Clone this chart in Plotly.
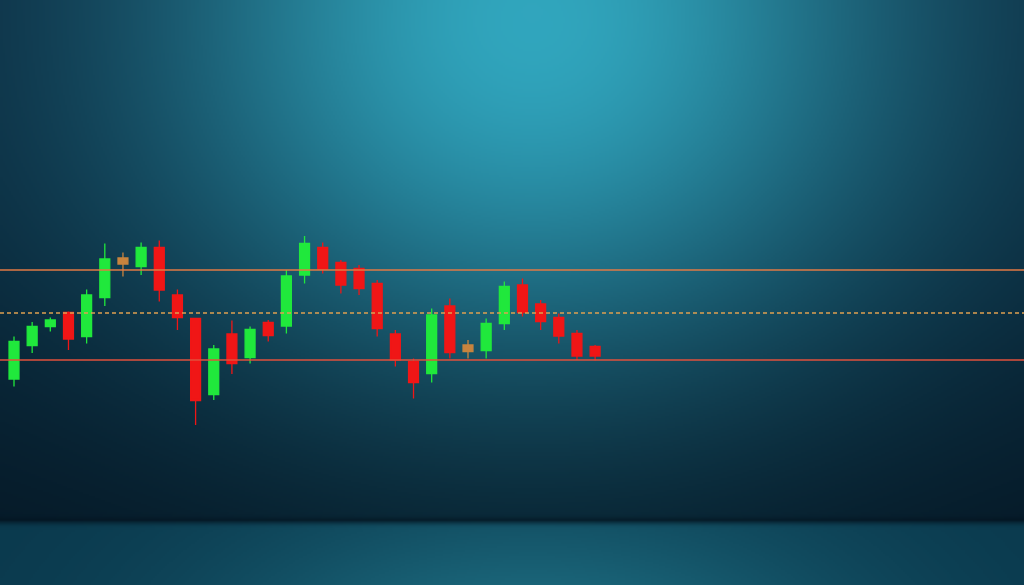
import base64, struct, zlib
import numpy as np
import plotly.graph_objects as go

# ---- data (price units) ----
idx = list(range(33))
opens  = [41.2, 47.9, 51.7, 54.5, 49.7, 57.5, 64.2, 63.7, 67.5, 58.0, 53.3, 38.1, 50.2, 45.5, 52.5, 51.8, 62.0,
          67.5, 64.5, 63.3, 60.3, 50.2, 44.7, 42.3, 55.8, 46.7, 46.9, 52.3, 60.0, 56.2, 53.5, 50.3, 47.7]
closes = [48.7, 51.7, 53.0, 49.2, 58.0, 65.2, 65.4, 67.5, 59.0, 53.5, 36.9, 47.2, 44.3, 51.1, 49.9, 61.8, 68.3,
          63.2, 60.0, 59.3, 51.3, 45.0, 40.5, 54.0, 46.5, 48.0, 52.3, 59.7, 54.5, 52.7, 49.8, 45.8, 45.8]
highs  = [49.7, 52.6, 53.5, 54.7, 59.1, 68.3, 66.5, 68.5, 68.9, 59.1, 53.4, 48.0, 52.9, 51.7, 53.0, 63.0, 69.8,
          68.5, 65.0, 64.0, 61.0, 51.0, 45.3, 55.3, 57.3, 49.0, 53.3, 60.7, 61.3, 57.0, 54.3, 51.0, 48.0]
lows   = [39.7, 46.4, 50.7, 47.0, 48.3, 55.8, 61.7, 62.0, 56.7, 51.0, 32.0, 37.0, 42.2, 44.3, 48.7, 50.3, 60.3,
          62.3, 58.3, 58.0, 49.7, 43.7, 37.3, 40.5, 45.3, 45.3, 45.3, 51.0, 53.7, 51.0, 48.3, 45.0, 44.9]
doji_idx = [6, 25]
levels = [63.0, 54.4, 45.0]  # resistance, pivot, support

# ---- background gradient image ----
W, H = 512, 293
xx, yy = np.meshgrid(np.linspace(0, 1, W), np.linspace(0, 1, H))
split = 0.892
t = np.clip(yy / split, 0, 1)[..., None]
dark = np.array([11, 38, 58]) * (1 - t) + np.array([5, 24, 38]) * t
glow = np.exp(-(((xx - 0.52) / 0.36) ** 2 + ((yy - 0.0) / 0.6) ** 2))[..., None]
glow2 = (0.25 * np.exp(-(((xx - 0.5) / 0.8) ** 2 + ((yy - 0.35) / 0.42) ** 2)))[..., None]
bright = np.array([48, 160, 182])
main = dark + (bright - dark) * glow + np.array([8, 45, 55]) * glow2
ft = np.clip((yy - split) / (1 - split), 0, 1)[..., None]
fglow = np.exp(-((xx - 0.52) / 0.32) ** 2)[..., None]
floor = np.array([10, 56, 76]) + np.array([16, 44, 44]) * fglow * (0.6 + 0.4 * ft)
img = np.where((yy >= split)[..., None], floor, main)
edge = np.exp(-((yy - split) / 0.006) ** 2)[..., None]
img = img * (1 - 0.6 * edge) + np.array([4, 20, 32]) * 0.6 * edge
img = np.clip(img, 0, 255).astype(np.uint8)

def png_uri(a):
    h, w, _ = a.shape
    raw = b"".join(b"\x00" + a[r].tobytes() for r in range(h))
    def chunk(tag, d):
        return struct.pack(">I", len(d)) + tag + d + struct.pack(">I", zlib.crc32(tag + d) & 0xFFFFFFFF)
    png = (b"\x89PNG\r\n\x1a\n" + chunk(b"IHDR", struct.pack(">IIBBBBB", w, h, 8, 2, 0, 0, 0))
           + chunk(b"IDAT", zlib.compress(raw, 9)) + chunk(b"IEND", b""))
    return "data:image/png;base64," + base64.b64encode(png).decode()

GREEN, RED, ORANGE = "#20e83c", "#f01616", "#c8843e"

def sel(arr, keep):
    return [v if keep(i) else None for i, v in enumerate(arr)]

main_keep = lambda i: i not in doji_idx
fig = go.Figure()
fig.add_trace(go.Candlestick(
    x=idx, open=sel(opens, main_keep), high=sel(highs, main_keep),
    low=sel(lows, main_keep), close=sel(closes, main_keep),
    increasing=dict(line=dict(color=GREEN, width=1.3), fillcolor=GREEN),
    decreasing=dict(line=dict(color=RED, width=1.3), fillcolor=RED),
    showlegend=False, hoverinfo="skip"))
fig.add_trace(go.Candlestick(
    x=[idx[i] for i in doji_idx], open=[opens[i] for i in doji_idx], high=[highs[i] for i in doji_idx],
    low=[lows[i] for i in doji_idx], close=[closes[i] for i in doji_idx],
    increasing=dict(line=dict(color=ORANGE, width=1.3), fillcolor=ORANGE),
    decreasing=dict(line=dict(color=ORANGE, width=1.3), fillcolor=ORANGE),
    showlegend=False, hoverinfo="skip"))

line_styles = [dict(color="#e27a44", width=1.6),
               dict(color="#dea050", width=1.3, dash="4px,3px"),
               dict(color="#e2503c", width=1.6)]
for lv, st in zip(levels, line_styles):
    fig.add_shape(type="line", xref="paper", yref="y", x0=0, x1=1, y0=lv, y1=lv, line=st, layer="above")

step = 18.16
fig.update_layout(
    width=1024, height=585, margin=dict(l=0, r=0, t=0, b=0),
    paper_bgcolor="rgba(0,0,0,0)", plot_bgcolor="rgba(0,0,0,0)",
    boxmode="overlay", boxgap=0.22,
    images=[dict(source=png_uri(img), xref="paper", yref="paper", x=0, y=1, sizex=1, sizey=1,
                 xanchor="left", yanchor="top", sizing="stretch", layer="below")],
    xaxis=dict(range=[-14 / step, (1024 - 14) / step], visible=False, rangeslider=dict(visible=False),
               showgrid=False, zeroline=False, fixedrange=True),
    yaxis=dict(range=[0, 117], visible=False, showgrid=False, zeroline=False, fixedrange=True),
)
fig.write_html("out.html", config={"displayModeBar": False},
               post_script="document.body.style.margin='0';document.body.style.background='#0a2337';")
